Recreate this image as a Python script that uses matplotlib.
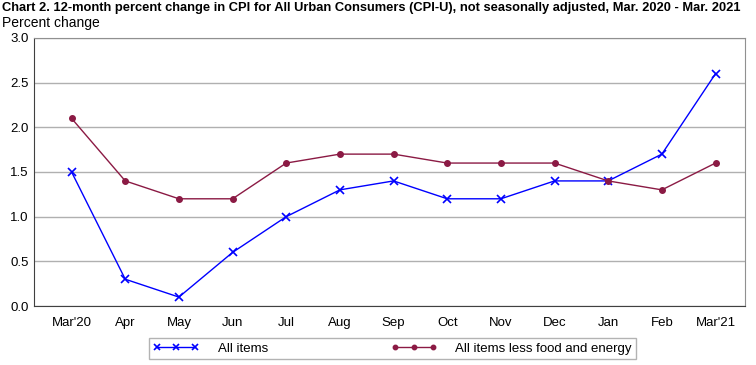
import matplotlib
matplotlib.use("Agg")
import matplotlib.pyplot as plt

months = ["Mar'20", "Apr", "May", "Jun", "Jul", "Aug", "Sep", "Oct", "Nov", "Dec", "Jan", "Feb", "Mar'21"]
all_items = [1.5, 0.3, 0.1, 0.6, 1.0, 1.3, 1.4, 1.2, 1.2, 1.4, 1.4, 1.7, 2.6]
core = [2.1, 1.4, 1.2, 1.2, 1.6, 1.7, 1.7, 1.6, 1.6, 1.6, 1.4, 1.3, 1.6]
yticks = [0.0, 0.5, 1.0, 1.5, 2.0, 2.5, 3.0]

plt.rcParams['font.family'] = ['Liberation Sans', 'DejaVu Sans']

fig = plt.figure(figsize=(7.56, 3.65), dpi=100)
ax = fig.add_axes([0.045, 0.1616, 0.9405, 0.7344])

x = list(range(len(months)))
ax.plot(x, all_items, color='#0000ff', lw=1.0, marker='x', ms=6, mew=1.2, label='All items', zorder=3)
ax.plot(x, core, color='#8b1a44', lw=1.0, marker='o', ms=4, label='All items less food and energy', zorder=3)

ax.set_xlim(-0.7, 12.55)
ax.set_ylim(0, 3.0)
ax.set_yticks(yticks)
ax.set_yticklabels([f"{v:.1f}" for v in yticks], fontsize=9.5)
ax.set_xticks(x)
ax.set_xticklabels(months, fontsize=9.5)
ax.tick_params(axis='x', length=0, pad=8)
ax.tick_params(axis='y', length=0, pad=4)
ax.grid(axis='y', color='#b0b0b0', lw=1.0)
ax.set_axisbelow(True)
for s in ['left', 'bottom']:
    ax.spines[s].set_color('#404040')
for s in ['top', 'right']:
    ax.spines[s].set_color('#909090')

fig.text(0.003, 0.995, "Chart 2. 12-month percent change in CPI for All Urban Consumers (CPI-U), not seasonally adjusted, Mar. 2020 - Mar. 2021",
         fontsize=9.3, fontweight='bold', ha='left', va='top', family='Liberation Sans')
fig.text(0.003, 0.955, "Percent change", fontsize=10, ha='left', va='top', family='Liberation Sans')

leg = fig.legend(loc='center', bbox_to_anchor=(0.519, 0.045), ncol=2, numpoints=3,
                 fontsize=9.5, frameon=True, fancybox=False, edgecolor='#a0a0a0',
                 handlelength=3.5, columnspacing=9.3, borderpad=0.3, handletextpad=1.4,
                 borderaxespad=0, markerscale=0.8)
leg.get_frame().set_linewidth(1.0)
leg._legend_box.align = "left"

fig.savefig("out.png", dpi=100)
